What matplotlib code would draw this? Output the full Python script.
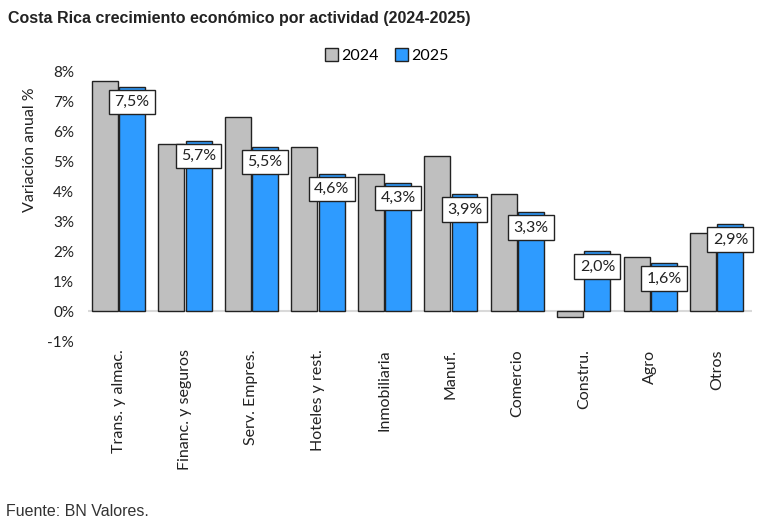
import numpy as np
import matplotlib.pyplot as plt

categorias = ["Trans. y almac.", "Financ. y seguros", "Serv. Empres.", "Hoteles y rest.",
              "Inmobiliaria", "Manuf.", "Comercio", "Constru.", "Agro", "Otros"]
v2024 = [7.7, 5.6, 6.5, 5.5, 4.6, 5.2, 3.9, -0.2, 1.8, 2.6]
v2025 = [7.5, 5.7, 5.5, 4.6, 4.3, 3.9, 3.3, 2.0, 1.6, 2.9]
yticks = [-1, 0, 1, 2, 3, 4, 5, 6, 7, 8]

gris = '#bfbfbf'
azul = '#2e9bff'

fig = plt.figure(figsize=(7.65, 5.28), dpi=100)
ax = fig.add_axes([0.115, 0.354, 0.868, 0.51])

x = np.arange(len(categorias))
w = 0.39
ax.bar(x - 0.205, v2024, w, color=gris, edgecolor='#222222', linewidth=1, label='2024', zorder=2)
ax.bar(x + 0.205, v2025, w, color=azul, edgecolor='#222222', linewidth=1, label='2025', zorder=2)

# etiquetas 2025
for xi, v in zip(x, v2025):
    ax.annotate(("%.1f%%" % v).replace('.', ','), (xi + 0.205, v), xytext=(0, -11),
                textcoords='offset points', ha='center', va='center', fontsize=11.5,
                family='Lato', color='#222222', zorder=4,
                bbox=dict(boxstyle='square,pad=0.33', fc='white', ec='#222222', lw=1))

ax.axhline(0, color='#d9d9d9', lw=1.5, zorder=1)
ax.set_xlim(-0.46, 9.53)
ax.set_ylim(-1, 8)
ax.set_yticks(yticks)
ax.set_yticklabels(["%d%%" % t for t in yticks], family='Lato', fontsize=11, color='#222222')
ax.set_xticks(x)
ax.set_xticklabels(categorias, rotation=90, family='Lato', fontsize=11.5, color='#222222')
ax.tick_params(length=0, pad=10)
ax.tick_params(axis='x', pad=6)
for s in ax.spines.values():
    s.set_visible(False)
ax.set_ylabel('Variación anual %', family='Lato', fontsize=11.5, color='#222222')
ax.yaxis.set_label_coords(-0.077, 0.71)

ax.legend(loc='upper center', bbox_to_anchor=(0.45, 1.14), ncol=2, frameon=False,
          prop={'family': 'Lato', 'size': 11.5}, handlelength=0.8, handleheight=0.8,
          handletextpad=0.2, columnspacing=1.0)

fig.text(0.011, 0.965, 'Costa Rica crecimiento económico por actividad (2024-2025)',
         family='Liberation Sans', fontweight='bold', fontsize=11.5, color='#222222', va='center')
fig.text(0.008, 0.032, 'Fuente: BN Valores.', family='Liberation Sans', fontsize=11.5,
         color='#333333', va='center')

fig.savefig('out.png', dpi=100)
